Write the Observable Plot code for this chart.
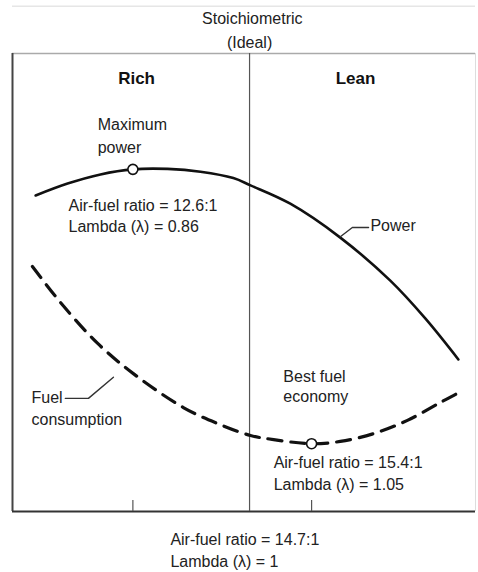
<!DOCTYPE html>
<html>
<head>
<meta charset="utf-8">
<script src="https://cdn.jsdelivr.net/npm/d3@7"></script>
<script src="https://cdn.jsdelivr.net/npm/@observablehq/plot@0.6"></script>
<style>
  html, body { margin: 0; padding: 0; background: #fff; }
</style>
</head>
<body>
<div id="chart"></div>
<script>
// Relative mixture position (0 = rich edge, 100 = lean edge) and relative output (0–100)
const powerX = [5.0, 11.9, 19.0, 26.0, 33.5, 40.6, 47.7, 51.4, 60.0, 70.8, 81.6, 89.2, 96.3];
const powerY = [69.0, 71.6, 73.6, 74.7, 74.8, 74.2, 72.8, 71.2, 67.2, 59.8, 50.4, 42.1, 33.2];

const fuelX = [4.3, 10.4, 18.4, 26.1, 36.9, 44.3, 51.4, 56.4, 64.6, 70.8, 78.0, 85.3, 92.4, 96.1];
const fuelY = [53.5, 45.6, 36.7, 30.1, 22.7, 19.2, 16.6, 15.7, 14.8, 15.3, 17.0, 19.9, 23.8, 25.8];

// Key mixture points
const keyNames = ["Maximum power", "Stoichiometric", "Best fuel economy"];
const keyX = [26.0, 51.2, 64.6];
const keyAFR = ["12.6:1", "14.7:1", "15.4:1"];
const keyLambda = ["0.86", "1", "1.05"];

const powerData = powerX.map((x, i) => ({x, y: powerY[i]}));
const fuelData = fuelX.map((x, i) => ({x, y: fuelY[i]}));

const maxPower = {x: keyX[0], y: powerY[3]};
const bestEco = {x: keyX[2], y: fuelY[8]};

const txt = (d, opts = {}) => Plot.text(d, {x: "x", y: "y", text: "t", textAnchor: "start", fontSize: 16, fill: "#222", ...opts});

const labelsStart = [
  {x: 18.4, y: 84.5, t: "Maximum"},
  {x: 18.4, y: 79.5, t: "power"},
  {x: 12.1, y: 66.8, t: `Air-fuel ratio = ${keyAFR[0]}`},
  {x: 12.1, y: 62.2, t: `Lambda (λ) = ${keyLambda[0]}`},
  {x: 77.3, y: 62.4, t: "Power"},
  {x: 58.5, y: 29.5, t: "Best fuel"},
  {x: 58.5, y: 25.1, t: "economy"},
  {x: 56.4, y: 10.7, t: `Air-fuel ratio = ${keyAFR[2]}`},
  {x: 56.4, y: 5.9, t: `Lambda (λ) = ${keyLambda[2]}`},
  {x: 4.1, y: 24.9, t: "Fuel"},
  {x: 4.1, y: 19.9, t: "consumption"},
  {x: 34.1, y: -6.1, t: `Air-fuel ratio = ${keyAFR[1]}`},
  {x: 34.1, y: -10.9, t: `Lambda (λ) = ${keyLambda[1]}`}
];
const labelsTop = [
  {x: 51.8, y: 107.6, t: "Stoichiometric"},
  {x: 51.2, y: 102.4, t: "(Ideal)"}
];
const labelsBold = [
  {x: 26.8, y: 94.5, t: "Rich"},
  {x: 74.1, y: 94.5, t: "Lean"}
];

const powerLeader = [{x: 70.8, y: 60.0}, {x: 73.4, y: 62.0}, {x: 76.9, y: 62.0}];
const fuelLeader = [{x: 11.4, y: 24.7}, {x: 16.4, y: 24.7}, {x: 21.8, y: 29.3}];

const chart = Plot.plot({
  width: 478,
  height: 572,
  marginLeft: 12,
  marginRight: 3,
  marginTop: 53,
  marginBottom: 61,
  x: {domain: [0, 100], axis: null},
  y: {domain: [0, 100], axis: null},
  style: {background: "#fff", fontFamily: "'Liberation Sans', Arial, Helvetica, sans-serif", overflow: "visible"},
  marks: [
    // faint scan line at the very top
    Plot.ruleY([110.3], {stroke: "#e6e6e6", strokeWidth: 1.5}),
    // frame
    Plot.ruleY([100], {stroke: "#aaa", strokeWidth: 1.5}),
    Plot.ruleX([100], {stroke: "#ddd", strokeWidth: 1}),
    Plot.ruleX([0], {stroke: "#444", strokeWidth: 2}),
    Plot.ruleY([0], {stroke: "#333", strokeWidth: 2}),
    // stoichiometric divider
    Plot.ruleX([keyX[1]], {y1: 0, y2: 100, stroke: "#555", strokeWidth: 1.2}),
    // bottom ticks
    Plot.ruleX([keyX[0], keyX[2]], {y1: 0, y2: 2.4, stroke: "#555", strokeWidth: 1.2}),
    // curves
    Plot.line(powerData, {x: "x", y: "y", curve: "catmull-rom", stroke: "#111", strokeWidth: 2.6}),
    Plot.line(fuelData, {x: "x", y: "y", curve: "catmull-rom", stroke: "#111", strokeWidth: 3.2, strokeDasharray: "14,9"}),
    // leaders
    Plot.line(powerLeader, {x: "x", y: "y", stroke: "#333", strokeWidth: 1.4}),
    Plot.line(fuelLeader, {x: "x", y: "y", stroke: "#333", strokeWidth: 1.4}),
    // key points
    Plot.dot([maxPower, bestEco], {x: "x", y: "y", r: 5, fill: "#fff", stroke: "#111", strokeWidth: 1.6}),
    // texts
    txt(labelsStart),
    txt(labelsTop, {textAnchor: "middle"}),
    txt(labelsBold, {textAnchor: "middle", fontWeight: "bold", fontSize: 17, fill: "#111"})
  ]
});
document.getElementById("chart").appendChild(chart);
</script>
</body>
</html>
